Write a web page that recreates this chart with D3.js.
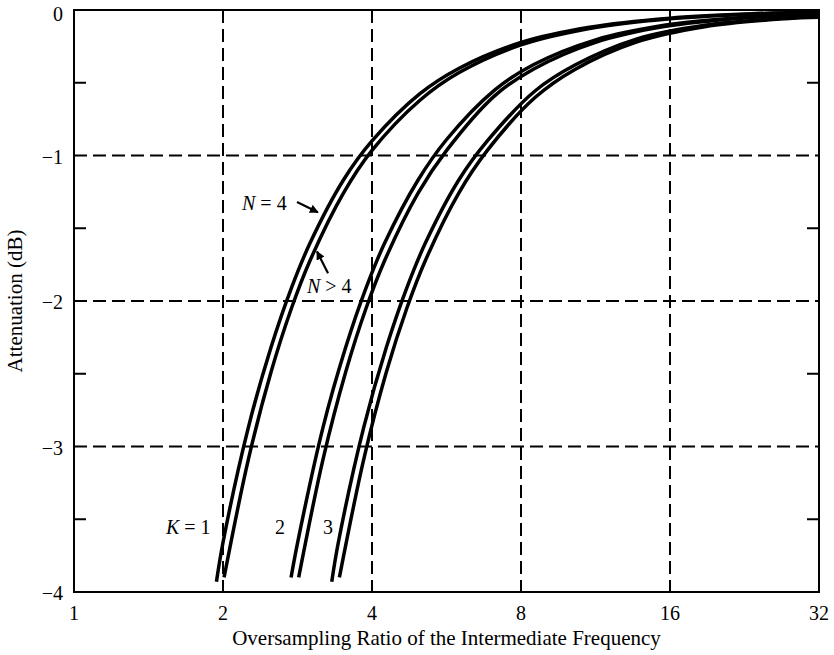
<!DOCTYPE html>
<meta charset="utf-8">
<html>
<head>
<script src="https://cdn.jsdelivr.net/npm/d3@7"></script>
<style>
body { margin:0; background:#fff; }
text { font-family:'Liberation Serif', 'Times New Roman', serif; fill:#000; }
.tick-label { font-size:20px; }
.axis-title { font-size:21px; }
.note { font-size:20px; }
.grid { stroke:#000; stroke-width:2; stroke-dasharray:13,6; fill:none; }
.frame { stroke:#000; stroke-width:2; fill:none; }
.curve { stroke:#000; stroke-width:3.5; fill:none; }
</style>
</head>
<body>
<script>

// Axis values
var xTicks = [1, 2, 4, 8, 16, 32];
var yTicks = [0, -1, -2, -3, -4];
var yMinor = [-0.5, -1.5, -2.5, -3.5];
var xGrid = [2, 4, 8, 16];
var yGrid = [-1, -2, -3];

// Curves: [oversampling ratio, attenuation dB]
// each K has a pair, upper/left strand is N = 4, lower/right is N > 4
var k1N4 = [[1.94,-3.93],[2,-3.66],[2.25,-2.87],[2.5,-2.32],[2.75,-1.91],[3,-1.60],
  [3.5,-1.17],[4,-0.90],[5,-0.575],[6,-0.40],[8,-0.223],[11,-0.118],[16,-0.056],
  [23,-0.027],[32,-0.014]];
var k1N5 = [[2.01,-3.90],[2.25,-3.09],[2.5,-2.49],[2.75,-2.05],[3,-1.72],[3.5,-1.26],
  [4,-0.965],[5,-0.62],[6,-0.43],[8,-0.24],[11,-0.127],[16,-0.060],[23,-0.029],[32,-0.015]];
var k2N4 = [[2.745,-3.90],[2.83,-3.66],[3.184,-2.87],[3.538,-2.32],[3.891,-1.91],
  [4.245,-1.60],[4.953,-1.17],[5.66,-0.89],[7.075,-0.55],[8.49,-0.375],[11.32,-0.205],
  [15.57,-0.105],[22.64,-0.05],[32,-0.027]];
var k2N5 = [[2.844,-3.90],[3.184,-3.09],[3.538,-2.49],[3.891,-2.05],[4.245,-1.72],
  [4.953,-1.26],[5.66,-0.965],[7.075,-0.59],[8.49,-0.405],[11.32,-0.222],[15.57,-0.114],
  [22.64,-0.055],[32,-0.03]];
var k3N4 = [[3.317,-3.93],[3.42,-3.66],[3.848,-2.87],[4.275,-2.32],[4.703,-1.91],
  [5.13,-1.60],[5.985,-1.17],[6.84,-0.90],[8.55,-0.555],[10.26,-0.38],[13.68,-0.20],
  [18.8,-0.105],[27.4,-0.055],[32,-0.045]];
var k3N5 = [[3.437,-3.90],[3.848,-3.09],[4.275,-2.49],[4.703,-2.05],[5.13,-1.72],
  [5.985,-1.26],[6.84,-0.965],[8.55,-0.60],[10.26,-0.41],[13.68,-0.22],[18.8,-0.115],
  [27.4,-0.06],[32,-0.05]];

var curves = [k1N4, k1N5, k2N4, k2N5, k3N4, k3N5];

// Margins
var m = {top:10, right:15, bottom:63, left:74},
    w = 834 - m.left - m.right,
    h = 655 - m.top - m.bottom;

var svg = d3.select("body")
  .append("svg")
  .attr("width", 834)
  .attr("height", 655)
  .append("g")
    .attr("transform", `translate(${m.left}, ${m.top})`);

var x = d3.scaleLog().base(2)
  .domain([1, 32])
  .range([0, w]);

var y = d3.scaleLinear()
  .domain([-4, 0])
  .range([h, 0]);

// Grid
svg.selectAll(".gx")
  .data(xGrid)
  .enter().append("line")
  .attr("class", "grid")
  .attr("x1", d => x(d)).attr("x2", d => x(d))
  .attr("y1", 0).attr("y2", h);

svg.selectAll(".gy")
  .data(yGrid)
  .enter().append("line")
  .attr("class", "grid")
  .attr("x1", 0).attr("x2", w)
  .attr("y1", d => y(d)).attr("y2", d => y(d));

// Minor ticks left and right, pointing inward
svg.selectAll(".ml")
  .data(yMinor)
  .enter().append("line")
  .attr("class", "frame")
  .attr("x1", 0).attr("x2", 12)
  .attr("y1", d => y(d)).attr("y2", d => y(d));

svg.selectAll(".mr")
  .data(yMinor)
  .enter().append("line")
  .attr("class", "frame")
  .attr("x1", w - 12).attr("x2", w)
  .attr("y1", d => y(d)).attr("y2", d => y(d));

// Curves
var line = d3.line()
  .x(d => x(d[0]))
  .y(d => y(d[1]))
  .curve(d3.curveCatmullRom.alpha(0.5));

svg.selectAll(".curve")
  .data(curves)
  .enter().append("path")
  .attr("class", "curve")
  .attr("d", line);

// Frame
svg.append("rect")
  .attr("class", "frame")
  .attr("width", w)
  .attr("height", h);

// Tick labels
svg.selectAll(".xl")
  .data(xTicks)
  .enter().append("text")
  .attr("class", "tick-label")
  .attr("x", d => x(d))
  .attr("y", h + 28)
  .attr("text-anchor", "middle")
  .text(d => d);

svg.selectAll(".yl")
  .data(yTicks)
  .enter().append("text")
  .attr("class", "tick-label")
  .attr("x", -11)
  .attr("y", d => y(d) + (d === 0 ? 11 : 8))
  .attr("text-anchor", "end")
  .text(d => d === 0 ? "0" : "\u2212" + Math.abs(d));

// Axis titles
svg.append("text")
  .attr("class", "axis-title")
  .attr("x", w / 2)
  .attr("y", h + 53)
  .attr("text-anchor", "middle")
  .text("Oversampling Ratio of the Intermediate Frequency");

svg.append("text")
  .attr("class", "axis-title")
  .attr("transform", `translate(${-52}, ${y(-2)}) rotate(-90)`)
  .attr("text-anchor", "middle")
  .text("Attenuation (dB)");

// Annotations
function note(xv, yv, parts) {
  var t = svg.append("text")
    .attr("class", "note")
    .attr("x", x(xv))
    .attr("y", y(yv));
  parts.forEach(p => {
    t.append("tspan")
      .style("font-style", p[1] ? "italic" : "normal")
      .text(p[0]);
  });
}

note(2.185, -1.375, [["N", true], [" = 4", false]]);
note(2.956, -1.945, [["N", true], [" > 4", false]]);
note(1.534, -3.60, [["K", true], [" = 1", false]]);
note(2.547, -3.60, [["2", false]]);
note(3.185, -3.60, [["3", false]]);

svg.append("defs").append("marker")
  .attr("id", "head")
  .attr("viewBox", "0 0 10 10")
  .attr("refX", 9).attr("refY", 5)
  .attr("markerWidth", 4).attr("markerHeight", 4)
  .attr("orient", "auto")
  .append("path")
  .attr("d", "M0,0L10,5L0,10z")
  .attr("fill", "#000");

var arrows = [[[2.822, -1.32], [3.11, -1.39]], [[3.26, -1.81], [3.097, -1.66]]];

svg.selectAll(".arrow")
  .data(arrows)
  .enter().append("line")
  .attr("stroke", "#000")
  .attr("stroke-width", 2.2)
  .attr("x1", d => x(d[0][0])).attr("y1", d => y(d[0][1]))
  .attr("x2", d => x(d[1][0])).attr("y2", d => y(d[1][1]))
  .attr("marker-end", "url(#head)");

</script>
</body>
</html>
